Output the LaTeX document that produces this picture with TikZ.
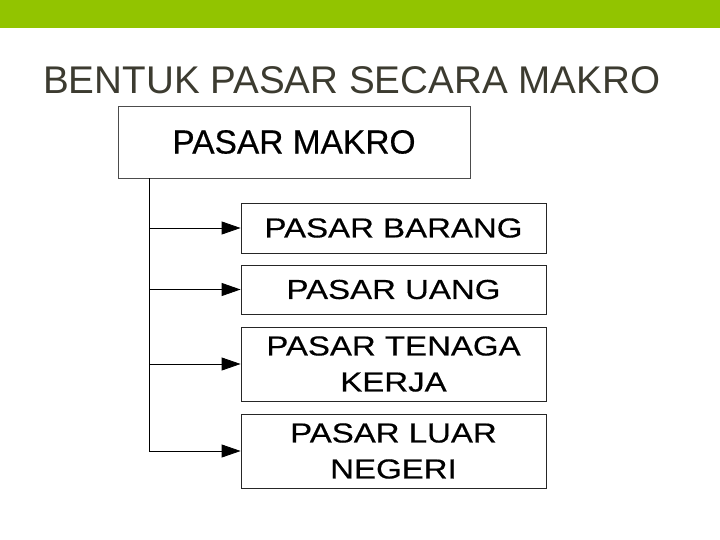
\documentclass[tikz,border=0pt]{standalone}
\usepackage{fontspec}
\setmainfont{Liberation Sans}
\newfontfamily\mainboxfont[FakeBold=0.4]{Liberation Sans}
\newfontfamily\wideboxfont[FakeStretch=1.2, FakeBold=0.4]{Liberation Sans}
\usetikzlibrary{arrows.meta}
\usetikzlibrary{calc}
\definecolor{bargreen}{HTML}{92C400}
\definecolor{titlegray}{HTML}{3C3B30}

\begin{document}
\begin{tikzpicture}[x=1pt, y=-1pt,
                mainbox/.style = {draw=black!70, line width=0.8pt, inner sep=0pt, minimum width=352pt, minimum height=72pt, font=\mainboxfont\fontsize{33.5}{40}\selectfont},
                subbox/.style = {draw=black!85, line width=0.8pt, inner sep=0pt, minimum width=305pt, align=center, font=\wideboxfont\fontsize{27.5}{36}\selectfont},
                link/.style = {black, line width=0.8pt},
                arrow/.style = {link, -{Triangle[length=19pt, width=13pt]}}]
                \useasboundingbox (0,0) rectangle (720,540);
                \fill[bargreen] (0,0) rectangle (720,28);
                \node[anchor=base west, text=titlegray, font=\fontsize{38.6}{44}\selectfont, inner sep=0pt] (title) at (43,94) {BENTUK PASAR SECARA MAKRO};
                \node[mainbox] (makro) at (294,142) {PASAR MAKRO};
                \node[subbox, minimum height=50pt] (barang) at (393.5,228) {PASAR BARANG};
                \node[subbox, minimum height=49pt] (uang) at (393.5,289.5) {PASAR UANG};
                \node[subbox, minimum height=74pt] (tenaga) at (393.5,364) {PASAR TENAGA\\KERJA};
                \node[subbox, minimum height=74pt] (luar) at (393.5,451) {PASAR LUAR\\NEGERI};
                \coordinate (stem) at (makro.south -| 149,0);
                \draw[link] (stem) -- (stem |- luar.west);
                \draw[arrow] (stem |- barang.west) -- (barang.west);
                \draw[arrow] (stem |- uang.west) -- (uang.west);
                \draw[arrow] (stem |- tenaga.west) -- (tenaga.west);
                \draw[arrow] (stem |- luar.west) -- (luar.west);
            \end{tikzpicture}
\end{document}
